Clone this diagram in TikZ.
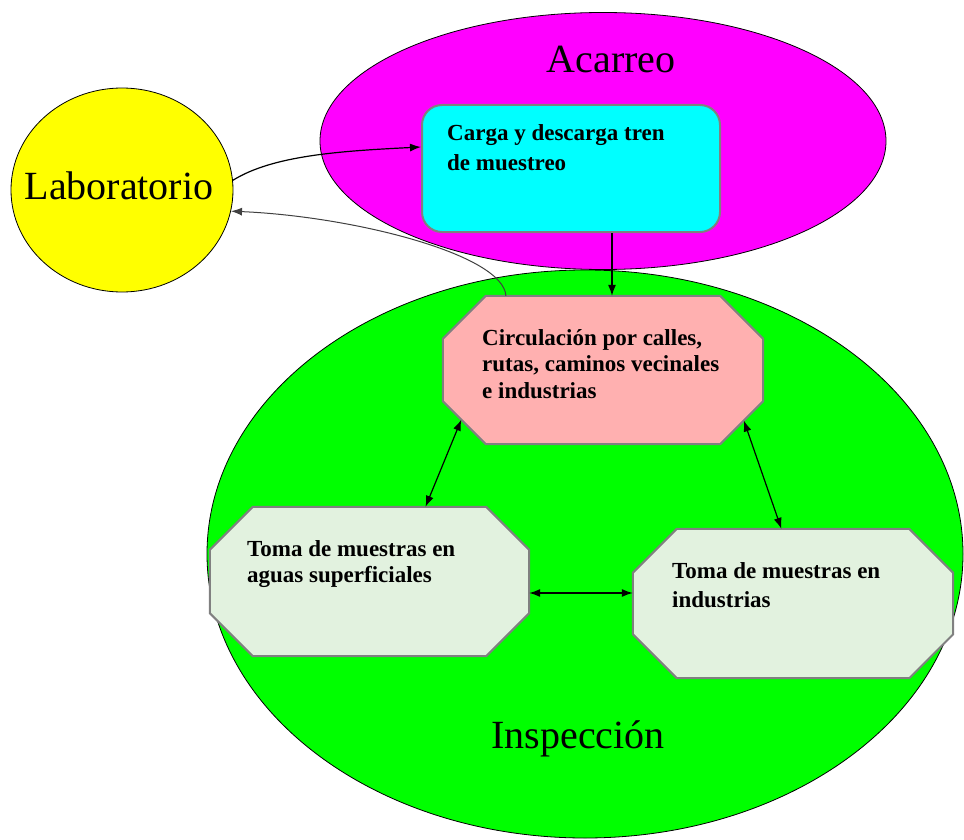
\documentclass[tikz,border=0pt]{standalone}
\usepackage{fontspec}
\setmainfont{Liberation Serif}
\usetikzlibrary{arrows.meta,calc,shapes.geometric}
\definecolor{pinkbox}{HTML}{FFB0B0}
\definecolor{palegreen}{HTML}{E2F2DF}
\definecolor{boxgray}{HTML}{808080}
\definecolor{darkline}{HTML}{404040}
\definecolor{regmagenta}{HTML}{FF00FF}
\definecolor{regcyan}{HTML}{00FFFF}
\definecolor{regyellow}{HTML}{FFFF00}
\definecolor{reggreen}{HTML}{00FF00}
\tikzset{
  region/.style={ellipse, draw=black, line width=0.8pt, inner sep=0pt},
  octline/.style={draw=boxgray, line width=2pt, line join=miter},
  boxtext/.style={anchor=north west, inner sep=0pt, align=left},
  bigtext/.style={font=\fontsize{40}{44}\selectfont, inner sep=0pt},
  conn/.style={line width=1.2pt, black},
  tip/.style={-{Latex[length=11pt,width=8pt]}},
  dtip/.style={{Latex[length=11pt,width=8pt]}-{Latex[length=11pt,width=8pt]}},
}
\newcommand\octanode[7]{%
  \node[inner sep=0pt, minimum width=#5pt, minimum height=#6pt] (#1) at (#3,#4) {};
  \draw[octline, fill=#2]
    ([xshift=#7pt]#1.north west) coordinate (#1-1) --
    ([xshift=-#7pt]#1.north east) coordinate (#1-2) --
    ([yshift=-#7pt]#1.north east) coordinate (#1-3) --
    ([yshift=#7pt]#1.south east) coordinate (#1-4) --
    ([xshift=-#7pt]#1.south east) coordinate (#1-5) --
    ([xshift=#7pt]#1.south west) coordinate (#1-6) --
    ([yshift=#7pt]#1.south west) coordinate (#1-7) --
    ([yshift=-#7pt]#1.north west) coordinate (#1-8) -- cycle;}
\begin{document}
\begin{tikzpicture}[x=1pt,y=-1pt]
\useasboundingbox (0,0) rectangle (964,840);
% regions
\node[region, fill=reggreen, minimum width=756pt, minimum height=568pt] (insp) at (585,554) {};
\node[region, fill=regmagenta, minimum width=566pt, minimum height=257pt] (acar) at (603,141) {};
\node[region, fill=regyellow, minimum width=222pt, minimum height=204pt] (lab) at (122,190) {};
% boxes
\node[draw=boxgray, line width=2pt, rounded corners=20pt, fill=regcyan, minimum width=298pt, minimum height=127pt, inner sep=0pt] (carga) at (571,168.5) {};
\octanode{circ}{pinkbox}{603}{370}{320}{148}{43}
\octanode{aguas}{palegreen}{369.5}{581.5}{319}{149}{43}
\octanode{indus}{palegreen}{793}{603.5}{320}{149}{44}
% texts
\node[bigtext, anchor=base] (acarreo) at (611,73) {Acarreo};
\node[bigtext, anchor=base] (labt) at (119,200) {Laboratorio};
\node[bigtext, anchor=base] (inspt) at (578,748) {Inspección};
\node[boxtext, font=\fontsize{23}{30}\selectfont\bfseries] (t1) at (447,124) {Carga y descarga tren\\de muestreo};
\node[boxtext, font=\fontsize{23}{26.5}\selectfont\bfseries] (t2) at (482,329) {Circulación por calles,\\rutas, caminos vecinales\\e industrias};
\node[boxtext, font=\fontsize{23}{26}\selectfont\bfseries] (t3) at (247,540) {Toma de muestras en\\aguas superficiales};
\node[boxtext, font=\fontsize{23}{29}\selectfont\bfseries] (t4) at (672,562) {Toma de muestras en\\industrias};
% connectors
\draw[conn, tip] (lab.5) .. controls +(40,-25) and +(-80,4) .. ([yshift=21.5pt]carga.west);
\draw[conn, tip, draw=darkline, line width=1pt] ($(circ-1)!0.086!(circ-2)$) .. controls +(-3,-42) and +(120,5) .. (lab.-11);
\draw[conn, tip] ([xshift=41pt]carga.south) -- ([xshift=41pt]carga.south |- circ.north);
\draw[conn, dtip] ($(circ-6)!0.57!(circ-7)$) -- ($(aguas-1)!0.74!(aguas-2)$);
\draw[conn, dtip] ($(circ-4)!0.45!(circ-5)$) -- ($(indus-1)!0.45!(indus-2)$);
\draw[conn, dtip] ([yshift=-11.5pt]aguas.east) -- ([yshift=-11.5pt]aguas.east -| indus.west);
\end{tikzpicture}
\end{document}
